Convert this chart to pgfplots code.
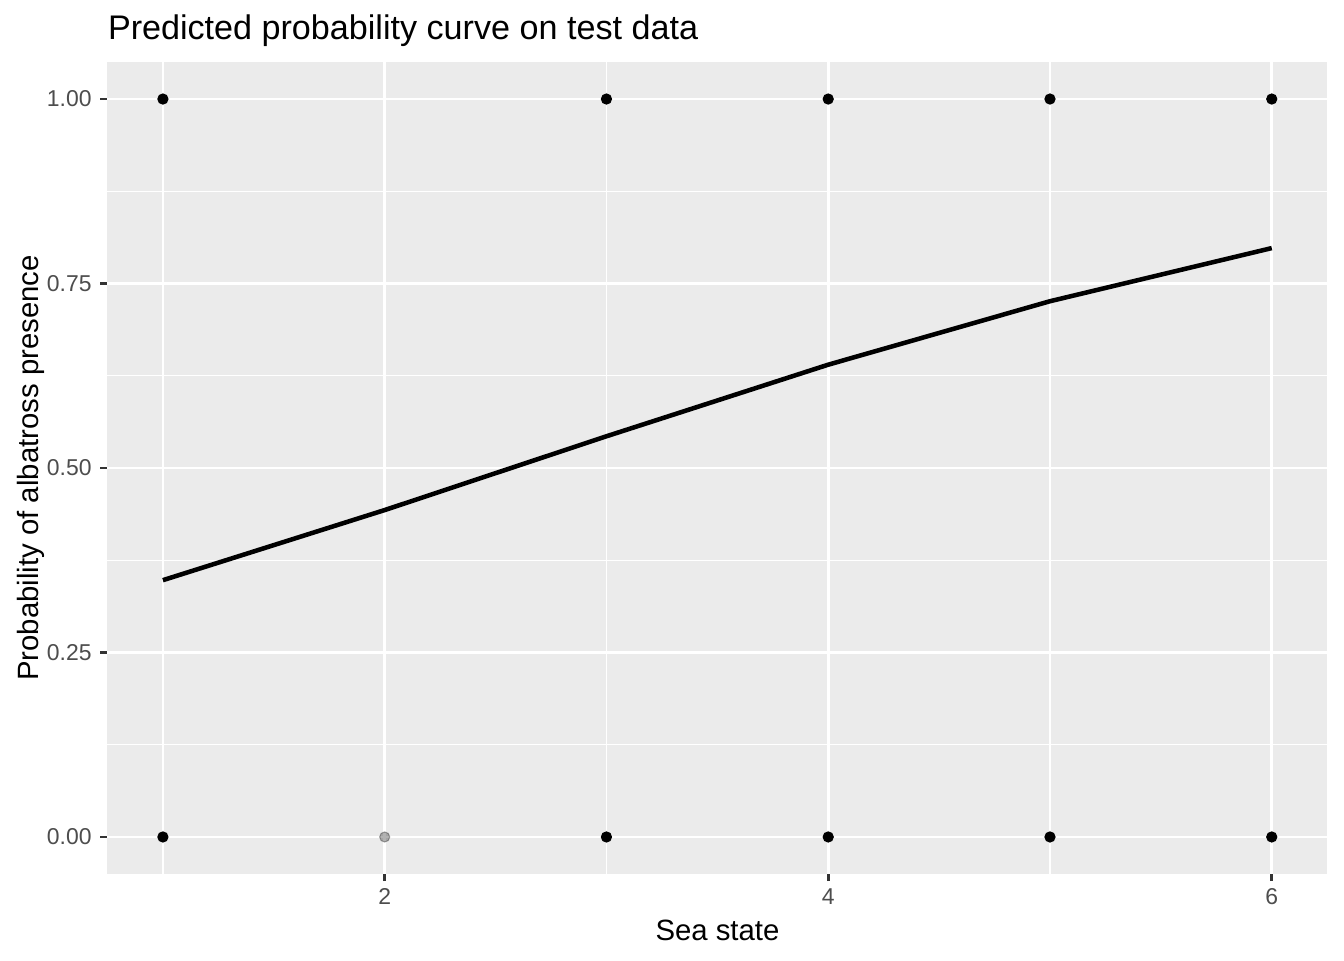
\documentclass[border=0pt]{standalone}
\usepackage{pgfplots}
\pgfplotsset{compat=1.18}
\usepackage{fontspec}
\setmainfont{Liberation Sans}
\definecolor{panel}{HTML}{EBEBEB}
\definecolor{gtwenty}{HTML}{333333}
\definecolor{gthirty}{HTML}{4D4D4D}
\begin{document}
\begin{tikzpicture}
\begin{axis}[
  at={(40.3pt,32.3pt)}, anchor=south west,
  scale only axis, width=457.4pt, height=304.4pt,
  xmin=0.75, xmax=6.25, ymin=-0.05, ymax=1.05,
  axis background/.style={fill=panel},
  axis line style={draw=none},
  xtick={2,4,6}, minor xtick={1,3,5},
  ytick={0,0.25,0.5,0.75,1}, minor ytick={0.125,0.375,0.625,0.875},
  grid=both,
  major grid style={draw=white, line width=1.07pt},
  minor grid style={draw=white, line width=0.53pt},
  tick align=outside, major tick length=2.75pt, minor tick length=0pt,
  tick style={color=gtwenty, line width=1.07pt},
  xtick pos=bottom, ytick pos=left,
  /pgf/number format/assume math mode=true,
  y tick label style={/pgf/number format/fixed, /pgf/number format/fixed zerofill, /pgf/number format/precision=2},
  ticklabel style={font=\fontsize{8.6}{10}\selectfont, text=gthirty},
  xticklabel style={inner sep=0pt, anchor=north, yshift=-2.6pt},
  yticklabel style={inner sep=0pt, anchor=east, xshift=-3pt},
  clip=false,
]
\addplot[only marks, mark=*, mark size=1.9pt, color=black, opacity=0.3] coordinates {(2,0)};
\addplot[only marks, mark=*, mark size=1.9pt, color=black] coordinates {
(1,0) (3,0) (4,0) (5,0) (6,0)
(1,1) (3,1) (4,1) (5,1) (6,1)
};
\addplot[black, line width=1.7pt, line join=round] coordinates {
(1,0.348) (2,0.443) (3,0.543) (4,0.640) (5,0.726) (6,0.798)
};
\end{axis}
\node[anchor=base west, inner sep=0pt, font=\fontsize{12.8}{15}\selectfont] at (40.3pt,345.3pt) {Predicted probability curve on test data};
\node[anchor=base, inner sep=0pt, font=\fontsize{11}{13}\selectfont] at (269.05pt,7.5pt) {Sea state};
\node[anchor=base, rotate=90, inner sep=0pt, font=\fontsize{11}{13}\selectfont] at (14.3pt,184.5pt) {Probability of albatross presence};
\pgfresetboundingbox
\path[use as bounding box] (0,0) rectangle (504pt,360pt);
\end{tikzpicture}
\end{document}
